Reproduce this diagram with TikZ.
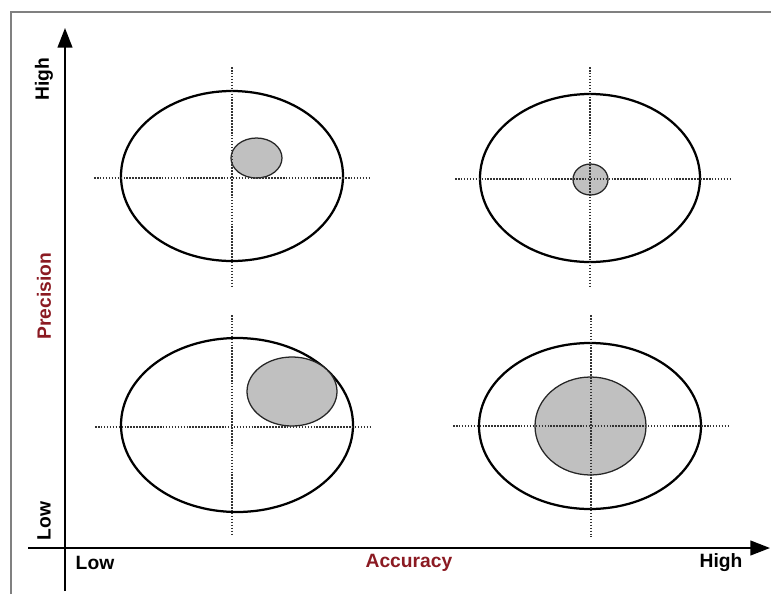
\documentclass[tikz,border=0pt]{standalone}
\usepackage{fontspec}
\setmainfont{Liberation Sans}
\usetikzlibrary{positioning,arrows.meta}
\definecolor{DarkRed}{HTML}{8B1A22}
\definecolor{Spot}{HTML}{C0C0C0}
\definecolor{Frame}{HTML}{808080}

\begin{document}
\begin{tikzpicture}[x=0.025cm,y=-0.025cm,
        target/.style={line width=1.6pt,black},
        spot/.style={fill=Spot,draw=black!85,line width=0.9pt},
        cross/.style={dash pattern=on 1.1pt off 1pt,line width=1.2pt,black!80},
        axis/.style={line width=1.4pt,-{Triangle[length=14pt,width=10.5pt]}},
        lbl/.style={font=\bfseries\fontsize{13.7}{16}\selectfont}
      ]
        \useasboundingbox (0,0) rectangle (771,594);
        \draw[Frame,line width=1.4pt] (11,594) -- (11,12) -- (771,12);
        % targets
        \draw[target] (232,176) ellipse [x radius=111,y radius=85];
        \draw[target] (590,178) ellipse [x radius=110,y radius=84];
        \draw[target] (237,425) ellipse [x radius=116,y radius=87];
        \draw[target] (590,426) ellipse [x radius=111,y radius=83];
        % hits
        \draw[spot] (256.5,158) ellipse [x radius=25.5,y radius=20];
        \draw[spot] (590.5,179.5) ellipse [x radius=17.5,y radius=15.5];
        \draw[spot] (292,391.5) ellipse [x radius=45,y radius=34.5];
        \draw[spot] (590.5,426) ellipse [x radius=55.5,y radius=49];
        % cross hairs
        \draw[cross] (232,67) -- (232,288); \draw[cross] (94,178) -- (370,178);
        \draw[cross] (590,67) -- (590,288); \draw[cross] (455,179) -- (730,179);
        \draw[cross] (232,315) -- (232,536); \draw[cross] (95,427) -- (370,427);
        \draw[cross] (591,315) -- (591,537); \draw[cross] (453,426) -- (729,426);
        % axes
        \coordinate (ybot) at (65,591); \coordinate (ytop) at (65,28);
        \coordinate (xleft) at (28,548); \coordinate (xright) at (770,548);
        \draw[axis] (ybot) -- (ytop);
        \draw[axis] (xleft) -- (xright);
        \node[lbl,rotate=90] (yhigh) at (44,79) {High};
        \node[lbl,rotate=90,DarkRed] (ytitle) at (44,296) {Precision};
        \node[lbl,rotate=90] (ylow) at (44,521) {Low};
        \node[lbl] (xlow) at (95,563) {Low};
        \node[lbl,DarkRed] (xtitle) at (409,563) {Accuracy};
        \node[lbl] (xhigh) at (721,563) {High};
      \end{tikzpicture}
\end{document}
